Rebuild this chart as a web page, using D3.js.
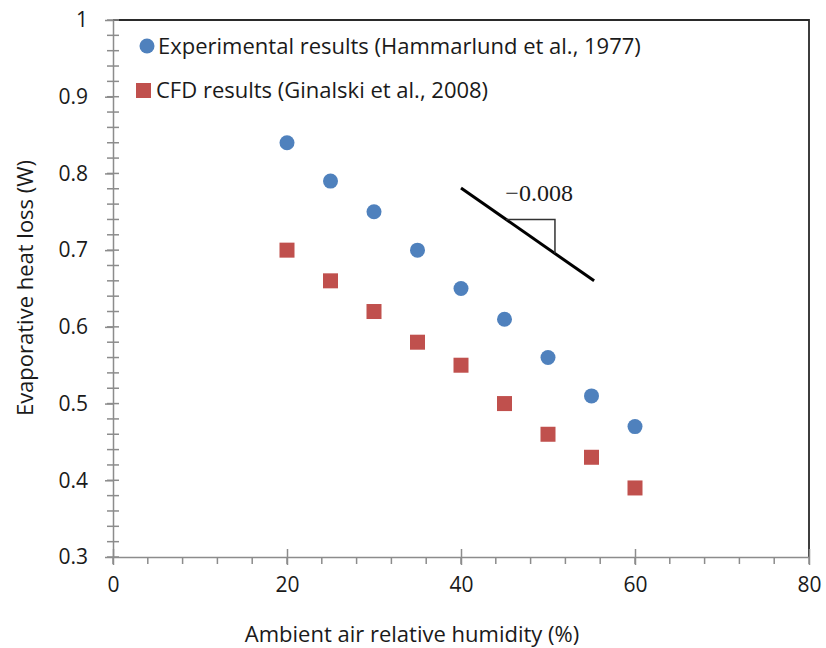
<!DOCTYPE html>
<html><head><meta charset="utf-8">
<script src="https://cdn.jsdelivr.net/npm/d3@7"></script>
<style>body{margin:0;background:#fff}svg{display:block}text{font-family:"Open Sans",sans-serif;fill:#1a1a1a}</style>
</head><body><svg id="c" width="826" height="648"></svg>
<script>
const humidity = [20,25,30,35,40,45,50,55,60];
const experimental = [0.84,0.79,0.75,0.70,0.65,0.61,0.56,0.51,0.47];
const cfd = [0.70,0.66,0.62,0.58,0.55,0.50,0.46,0.43,0.39];
const xTicks = [0,20,40,60,80];
const yTicks = [0.3,0.4,0.5,0.6,0.7,0.8,0.9,1];
const seriesNames = ["Experimental results (Hammarlund et al., 1977)","CFD results (Ginalski et al., 2008)"];
const slopeLine = [[40,0.781],[55.3,0.66]];
const slopeLabel = "\u22120.008";

const svg = d3.select("#c");
const x = d3.scaleLinear().domain([0,80]).range([113,809]);
const y = d3.scaleLinear().domain([0.3,1]).range([557,20]);
const axisCol = "#8c8c8c";

// frame top/right
svg.append("path").attr("d",`M${x(0)},${y(1)}H${x(80)}V${y(0.3)}`).attr("fill","none").attr("stroke","#2a2a2a").attr("stroke-width",1.8);

// minor ticks
const xMinor = d3.range(0,81,4);
svg.append("g").selectAll("line").data(xMinor).join("line")
 .attr("x1",d=>x(d)).attr("x2",d=>x(d)).attr("y1",y(0.3)).attr("y2",y(0.3)+7)
 .attr("stroke",axisCol).attr("stroke-width",1.5);
const yMinor = d3.range(0.3,1.0001,0.02);
svg.append("g").selectAll("line").data(yMinor).join("line")
 .attr("x1",x(0)-6).attr("x2",x(0)+6).attr("y1",d=>y(d)).attr("y2",d=>y(d))
 .attr("stroke",axisCol).attr("stroke-width",1.5);

// axes
const gx = svg.append("g").attr("transform",`translate(0,${y(0.3)})`)
 .call(d3.axisBottom(x).tickValues(xTicks).tickSize(8).tickSizeOuter(0).tickPadding(12).tickFormat(d3.format("d")));
gx.selectAll(".tick line").attr("y1",-8);
const gy = svg.append("g").attr("transform",`translate(${x(0)},0)`)
 .call(d3.axisLeft(y).tickValues(yTicks).tickSize(8).tickSizeOuter(0).tickPadding(17).tickFormat(d=>d===1?"1":d3.format(".1f")(d)));
[gx,gy].forEach(g=>{
 g.attr("font-size",21).attr("font-family","'Open Sans',sans-serif");
 g.select(".domain").attr("stroke",axisCol).attr("stroke-width",1.5);
 g.selectAll(".tick line").attr("stroke",axisCol).attr("stroke-width",1.5);
 g.selectAll(".tick text").attr("fill","#1a1a1a").style("font-size","21px");
});

// data
svg.append("g").selectAll("circle").data(humidity).join("circle")
 .attr("cx",d=>x(d)).attr("cy",(d,i)=>y(experimental[i])).attr("r",7.5).attr("fill","#4f81bd");
svg.append("g").selectAll("rect").data(humidity).join("rect")
 .attr("x",d=>x(d)-7.5).attr("y",(d,i)=>y(cfd[i])-7.5).attr("width",15).attr("height",15).attr("fill","#c0504d");

// slope annotation
svg.append("line").attr("x1",x(slopeLine[0][0])).attr("y1",y(slopeLine[0][1]))
 .attr("x2",x(slopeLine[1][0])).attr("y2",y(slopeLine[1][1])).attr("stroke","#000").attr("stroke-width",3);
const t = (yy)=>{const [a,b]=slopeLine;return a[0]+(yy-a[1])*(b[0]-a[0])/(b[1]-a[1]);};
const triTop = 0.74, triRight = 50.8;
const triBot = slopeLine[0][1]+(triRight-slopeLine[0][0])*(slopeLine[1][1]-slopeLine[0][1])/(slopeLine[1][0]-slopeLine[0][0]);
svg.append("path").attr("d",`M${x(t(triTop))},${y(triTop)}H${x(triRight)}V${y(triBot)}`)
 .attr("fill","none").attr("stroke","#333").attr("stroke-width",1.5);
svg.append("text").attr("x",x(45.1)).attr("y",y(0.764)).style("font-family","'Liberation Serif',serif").style("font-size","24px").text(slopeLabel);

// legend
svg.append("circle").attr("cx",147).attr("cy",46).attr("r",7.5).attr("fill","#4f81bd");
svg.append("text").attr("x",158).attr("y",54).style("font-size","22px").text(seriesNames[0]);
svg.append("rect").attr("x",136).attr("y",83).attr("width",15).attr("height",15).attr("fill","#c0504d");
svg.append("text").attr("x",156).attr("y",98).style("font-size","22px").text(seriesNames[1]);

// titles
svg.append("text").attr("x",412).attr("y",642).attr("text-anchor","middle").style("font-size","22px").text("Ambient air relative humidity (%)");
svg.append("text").attr("transform","translate(33,288) rotate(-90)").attr("text-anchor","middle").style("font-size","22px").text("Evaporative heat loss (W)");
</script></body></html>
